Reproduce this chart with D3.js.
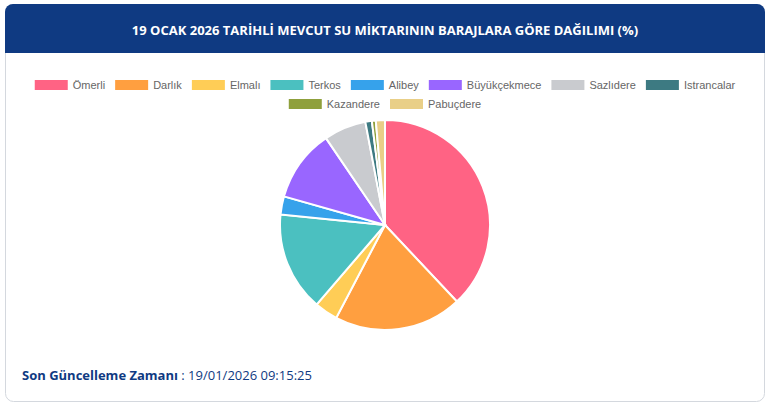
<!DOCTYPE html>
<html><head><meta charset="utf-8">
<script src="https://cdn.jsdelivr.net/npm/d3@7"></script>
<style>body{margin:0;background:#fff;font-family:"Open Sans",sans-serif}</style>
</head><body><svg id="c" width="770" height="407"></svg>
<script>
const categories=["Ömerli","Darlık","Elmalı","Terkos","Alibey","Büyükçekmece","Sazlıdere","Istrancalar","Kazandere","Pabuçdere"];
const values=[38.0,19.7,3.6,15.3,2.8,11.1,6.5,1.0,0.6,1.4];
const colors=["#ff6384","#ff9f40","#ffcd56","#4bc0c0","#36a2eb","#9966ff","#c9cbcf","#3d7a82","#8fa03c","#e9cf87"];
const svg=d3.select("#c");
svg.append("rect").attr("x",5.5).attr("y",4.5).attr("width",759).attr("height",397).attr("rx",8).attr("fill","#fff").attr("stroke","#d4d8de");
svg.append("path").attr("d","M5,53 V12 a8,8 0 0 1 8,-8 H757 a8,8 0 0 1 8,8 V53 Z").attr("fill","#0f3a82");
svg.append("text").attr("x",385).attr("y",35).attr("text-anchor","middle").attr("fill","#fff").attr("font-size",13).attr("font-weight",700).text("19 OCAK 2026 TARİHLİ MEVCUT SU MİKTARININ BARAJLARA GÖRE DAĞILIMI (%)");
const rows=[categories.slice(0,8),categories.slice(8)];
const ys=[85,104];
let idx=0;
rows.forEach((r,ri)=>{
  const widths=r.map(c=>{const t=svg.append("text").attr("font-size",11).attr("font-family","Liberation Sans").text(c);const w=t.node().getComputedTextLength();t.remove();return 38+w+10;});
  const total=d3.sum(widths)-10;let x=385-total/2;
  r.forEach((c,i)=>{const k=idx++;
    svg.append("rect").attr("x",x).attr("y",ys[ri]-5).attr("width",33).attr("height",10).attr("fill",colors[k]);
    svg.append("text").attr("x",x+38).attr("y",ys[ri]+4).attr("font-size",11).attr("font-family","Liberation Sans").attr("fill","#666").text(c);
    x+=widths[i];});
});
const pie=d3.pie().sort(null)(values);
const arc=d3.arc().innerRadius(0).outerRadius(105);
svg.append("g").attr("transform","translate(385,225)").selectAll("path").data(pie).join("path")
 .attr("d",arc).attr("fill",(d,i)=>colors[i]).attr("stroke","#fff").attr("stroke-width",2);
const ft=svg.append("text").attr("x",22).attr("y",380).attr("font-size",13).attr("fill","#0f3a82");
ft.append("tspan").attr("font-weight",700).text("Son Güncelleme Zamanı");
ft.append("tspan").text(" : 19/01/2026 09:15:25");
</script></body></html>
